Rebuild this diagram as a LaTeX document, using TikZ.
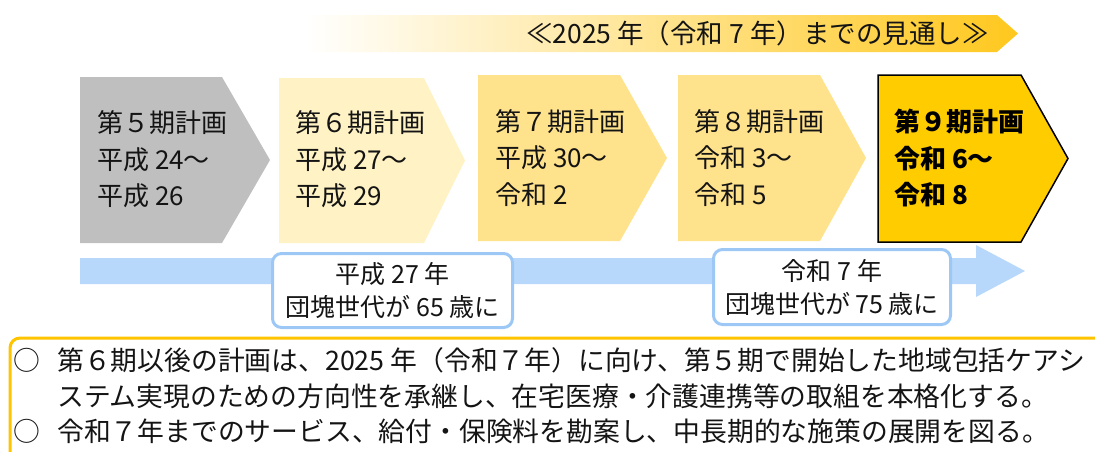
\documentclass[tikz,border=0pt]{standalone}
\usepackage{fontspec}
\setmainfont{Noto Sans CJK JP}
\definecolor{gray5}{RGB}{191,191,191}
\definecolor{cream6}{RGB}{255,242,196}
\definecolor{yel7}{RGB}{255,226,140}
\definecolor{gold9}{RGB}{255,204,0}
\definecolor{arrowblue}{RGB}{183,216,250}
\definecolor{calloutblue}{RGB}{157,200,245}
\definecolor{framegold}{RGB}{255,196,0}
\definecolor{topgold}{RGB}{255,200,30}
\definecolor{topmid}{RGB}{255,236,192}
\definecolor{inkcol}{RGB}{20,20,20}
\tikzset{
  boxtext/.style={anchor=west, inner sep=0pt, align=left, text=inkcol, font=\fontsize{26}{36.5}\selectfont},
  calloutbox/.style={draw=calloutblue, line width=3pt, rounded corners=9pt, fill=white, align=center, inner sep=0pt, text=inkcol, font=\fontsize{25}{33}\selectfont},
  bodytext/.style={anchor=west, inner sep=0pt, text=inkcol, font=\fontsize{26.8}{32}\selectfont},
}
\begin{document}
\begin{tikzpicture}[x=1pt,y=-1pt]
\useasboundingbox (0,0) rectangle (1095,451);
\clip (0,0) rectangle (1095,451);
% top gradient arrow
\shade[left color=white, middle color=topmid, right color=topgold]
  (305,15) -- (997,15) -- (1018,33.5) -- (997,52) -- (305,52) -- cycle;
\node[anchor=west, inner sep=0pt, text=inkcol, font=\fontsize{26.5}{30}\selectfont] (mitoshi) at (526,33.5) {≪2025 年（令和 7 年）までの見通し≫};
% chevrons
\fill[gray5] (80,77) -- (222,77) -- (270,160) -- (222,243) -- (80,243) -- cycle;
\fill[cream6] (279,78) -- (424,78) -- (465,160.5) -- (424,243) -- (279,243) -- cycle;
\fill[yel7] (478,75) -- (620,75) -- (667,158) -- (620,241) -- (478,241) -- cycle;
\fill[yel7] (678,75) -- (820,75) -- (866,158) -- (820,241) -- (678,241) -- cycle;
\filldraw[fill=gold9, draw=black, line width=1.5pt] (878,75) -- (1021,75) -- (1068,158.5) -- (1021,242) -- (878,242) -- cycle;
\node[boxtext] (p5) at (97,159.5) {第５期計画\\平成 24～\\平成 26};
\node[boxtext] (p6) at (295,159.5) {第６期計画\\平成 27～\\平成 29};
\node[boxtext] (p7) at (495,158) {第７期計画\\平成 30～\\令和 2};
\node[boxtext] (p8) at (694,158) {第８期計画\\令和 3～\\令和 5};
\node[boxtext, font=\fontsize{26}{36.5}\selectfont\bfseries, text=black] (p9) at (894,158) {第９期計画\\令和 6～\\令和 8};
% blue timeline arrow
\fill[arrowblue] (80,258) -- (976,258) -- (976,245) -- (1025,271) -- (976,297) -- (976,284) -- (80,284) -- cycle;
\node[calloutbox, minimum width=240pt, minimum height=74pt] (c1) at (392.5,290.5) {平成 27 年\\団塊世代が 65 歳に};
\node[calloutbox, minimum width=237pt, minimum height=75pt] (c2) at (832,287) {令和 7 年\\団塊世代が 75 歳に};
% bottom frame
\draw[framegold, line width=3pt, rounded corners=10pt] (10,338) rectangle (1130,490);
\node[bodytext] (m1) at (13,360) {○};
\node[bodytext] (l1) at (57,360) {第６期以後の計画は、2025 年（令和７年）に向け、第５期で開始した地域包括ケアシ};
\node[bodytext] (l2) at (57,396) {ステム実現のための方向性を承継し、在宅医療・介護連携等の取組を本格化する。};
\node[bodytext] (m3) at (13,431) {○};
\node[bodytext] (l3) at (57,431) {令和７年までのサービス、給付・保険料を勘案し、中長期的な施策の展開を図る。};
\end{tikzpicture}
\end{document}
